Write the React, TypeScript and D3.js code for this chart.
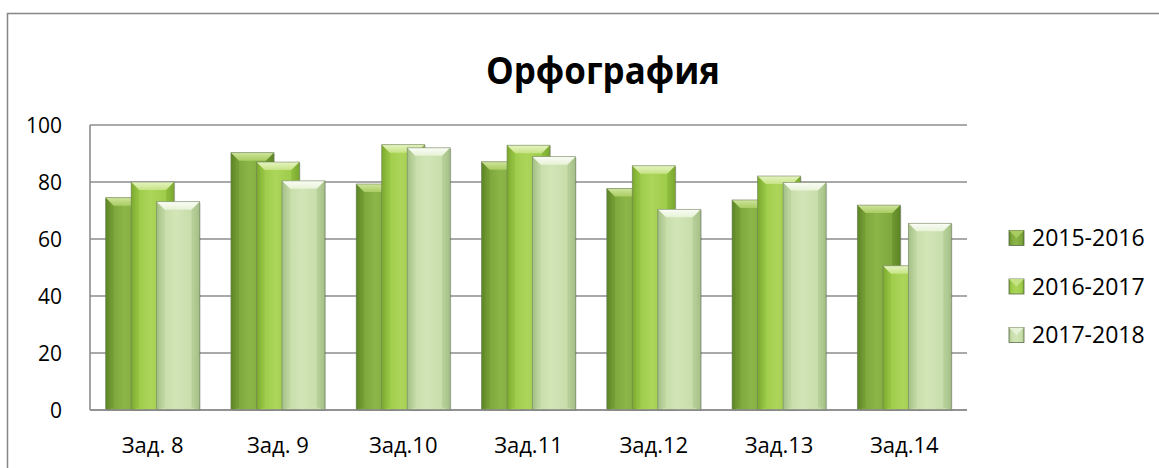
import React from "react";
import * as d3 from "d3";

const categories = ["Зад. 8", "Зад. 9", "Зад.10", "Зад.11", "Зад.12", "Зад.13", "Зад.14"];
const seriesNames = ["2015-2016", "2016-2017", "2017-2018"];
const s2015 = [74.5, 90.3, 79.3, 87.1, 77.7, 73.7, 71.9];
const s2016 = [80, 87, 93.1, 92.9, 85.7, 82.1, 50.6];
const s2017 = [73.1, 80.4, 92, 88.9, 70.4, 79.8, 65.5];
const yTicks = [0, 20, 40, 60, 80, 100];

const seriesValues = [s2015, s2016, s2017];
const palettes = [
  { edge: "#5c8424", body: "#7ba53a", light: "#8db649", top: "#a9cc62", topEdge: "#cfe59c" },
  { edge: "#7aa82e", body: "#9dcb48", light: "#acd55a", top: "#c6e384", topEdge: "#e6f4c2" },
  { edge: "#a3bf86", body: "#c6dca8", light: "#d2e5b7", top: "#e6f2d6", topEdge: "#fbfdf6" },
];

const W = 1159, H = 468;
const plot = { left: 90, right: 967, top: 125, bottom: 410 };
const FONT = "'Open Sans', 'Noto Sans', sans-serif";

export default function App() {
  const x = d3.scaleBand<string>().domain(categories).range([plot.left, plot.right]).padding(0);
  const y = d3.scaleLinear().domain([0, 100]).range([plot.bottom, plot.top]);
  const bw = 43;
  const step = 25.5;
  const bevel = 8;

  return (
    <svg width={W} height={H} style={{ position: "absolute", left: 0, top: 0, fontFamily: FONT }}>
      <defs>
        {palettes.map((p, i) => (
          <linearGradient id={`body${i}`} key={`b${i}`} x1="0" x2="1" y1="0" y2="0">
            <stop offset="0" stopColor={p.edge} />
            <stop offset="0.14" stopColor={p.body} />
            <stop offset="0.45" stopColor={p.light} />
            <stop offset="0.86" stopColor={p.body} />
            <stop offset="1" stopColor={p.edge} />
          </linearGradient>
        ))}
        {palettes.map((p, i) => (
          <linearGradient id={`top${i}`} key={`t${i}`} x1="0" x2="0" y1="0" y2="1">
            <stop offset="0" stopColor={p.topEdge} />
            <stop offset="1" stopColor={p.top} />
          </linearGradient>
        ))}
      </defs>
      <rect x={0} y={0} width={W} height={H} fill="#fff" />
      <path d={`M7.5,${H} L7.5,13.5 L${W},13.5`} fill="none" stroke="#868686" strokeWidth={1.5} />

      <text x={603} y={84} textAnchor="middle" fontSize={37} fontWeight="bold" fill="#000" textLength={234} lengthAdjust="spacingAndGlyphs">
        Орфография
      </text>

      {yTicks.map((t) => (
        <line key={t} x1={plot.left} x2={plot.right} y1={y(t)} y2={y(t)} stroke="#8c8c8c" strokeWidth={1.6} />
      ))}
      <line x1={plot.left} x2={plot.left} y1={plot.top} y2={plot.bottom} stroke="#8c8c8c" strokeWidth={1.6} />
      {yTicks.map((t) => (
        <text key={`l${t}`} x={62} y={y(t)} dy="0.36em" textAnchor="end" fontSize={21} fill="#000">
          {t}
        </text>
      ))}

      {seriesValues.map((vals, si) =>
        vals.map((v, ci) => {
          const cx = (x(categories[ci]) as number) + x.bandwidth() / 2;
          const span = bw + 2 * step;
          const x0 = cx - span / 2 + si * step;
          const yt = y(v);
          const h = plot.bottom - yt;
          return (
            <g key={`${si}-${ci}`}>
              <rect x={x0 + 1} y={yt + 1} width={bw} height={h} fill="#000" opacity={0.18} />
              <rect x={x0} y={yt} width={bw} height={h} fill={`url(#body${si})`} />
              <path
                d={`M${x0},${yt} L${x0 + bw},${yt} L${x0 + bw - bevel},${yt + bevel} L${x0 + bevel},${yt + bevel} Z`}
                fill={`url(#top${si})`}
              />
              <path
                d={`M${x0},${yt} L${x0 + bevel},${yt + bevel} L${x0 + bevel},${plot.bottom - 3} L${x0},${plot.bottom} Z`}
                fill={palettes[si].edge}
                opacity={0.3}
              />
              <path
                d={`M${x0 + bw},${yt} L${x0 + bw - bevel},${yt + bevel} L${x0 + bw - bevel},${plot.bottom - 3} L${x0 + bw},${plot.bottom} Z`}
                fill={palettes[si].edge}
                opacity={0.5}
              />
              <rect x={x0} y={yt} width={bw} height={h} fill="none" stroke="#6f7f5c" strokeWidth={0.8} strokeOpacity={0.7} />
            </g>
          );
        })
      )}
      <line x1={plot.left} x2={plot.right} y1={plot.bottom} y2={plot.bottom} stroke="#8c8c8c" strokeWidth={1.6} />

      {categories.map((c) => (
        <text key={c} x={(x(c) as number) + x.bandwidth() / 2} y={445} dy="0.36em" textAnchor="middle" fontSize={22} fill="#000">
          {c}
        </text>
      ))}

      {seriesNames.map((n, i) => {
        const ly = 238 + i * 48.5;
        const p = palettes[i];
        return (
          <g key={n}>
            <rect x={1009} y={ly - 7.5} width={15} height={15} fill={`url(#body${i})`} stroke="#5a6b48" strokeWidth={0.8} />
            <path d={`M1009,${ly - 7.5} L1024,${ly - 7.5} L1016.5,${ly} Z`} fill={p.top} />
            <text x={1032} y={ly} dy="0.36em" fontSize={23} fill="#000">
              {n}
            </text>
          </g>
        );
      })}
    </svg>
  );
}
